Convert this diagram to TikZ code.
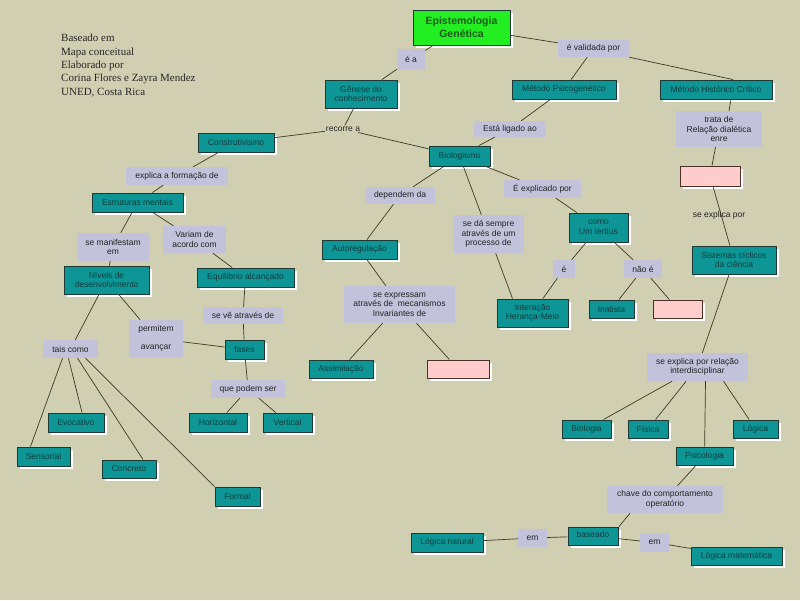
\documentclass[tikz,border=0pt]{standalone}
\usepackage{fontspec}
\setmainfont{Liberation Sans}
\newfontfamily\serifa{Liberation Serif}
\usetikzlibrary{shadows}
\definecolor{bg}{HTML}{D1CFB2}
\definecolor{teal0}{HTML}{0E9696}
\definecolor{tborder}{HTML}{1F3A36}
\definecolor{ttext}{HTML}{0F3B3B}
\definecolor{lav}{HTML}{C2C3DA}
\definecolor{ltext}{HTML}{222222}
\definecolor{pink0}{HTML}{FFCCCC}
\definecolor{pborder}{HTML}{4A3028}
\definecolor{green0}{HTML}{22EE22}
\definecolor{gtext}{HTML}{1E5A1E}
\definecolor{lk}{HTML}{3A3A24}
\tikzset{
  wh/.style 2 args={minimum width=#1pt, minimum height=#2pt},
  shad/.style={drop shadow={shadow xshift=2.5pt, shadow yshift=-2.5pt, fill=white, opacity=1}},
  tbox/.style={draw=tborder, fill=teal0, line width=0.9pt, text=ttext, inner sep=0pt, align=center, shad,
    font=\fontsize{8.5}{9.5}\selectfont},
  lbox/.style={fill=lav, text=ltext, inner sep=0pt, align=center, font=\fontsize{8.5}{9.5}\selectfont},
  ptext/.style={text=ltext, inner sep=1pt, align=center, font=\fontsize{8.5}{9.5}\selectfont},
  pbox/.style={draw=pborder, fill=pink0, line width=0.9pt, inner sep=0pt, shad},
  gbox/.style={draw=tborder, fill=green0, line width=0.9pt, text=gtext, inner sep=0pt, align=center, shad,
    font=\bfseries\fontsize{10.5}{13}\selectfont},
  link/.style={draw=lk, line width=0.7pt}
}
\begin{document}
\begin{tikzpicture}[x=1pt,y=-1pt]
\fill[bg] (0,0) rectangle (800,600);
\useasboundingbox (0,0) rectangle (800,600);

\node[anchor=north west, inner sep=0pt, align=left, text=black!85,
  font=\serifa\fontsize{11}{13.3}\selectfont] (cred) at (61,34)
  {Baseado em\\Mapa conceitual\\Elaborado por\\Corina Flores e Zayra Mendez\\UNED, Costa Rica};

% nodes
\node[gbox, wh={97}{35}] (episte) at (461.5,27.5) {Epistemologia\\Genética};
\node[lbox, wh={28}{21}] (ea) at (411,59.5) {é a};
\node[lbox, wh={71}{17}] (valid) at (593.5,48.5) {é validada por};
\node[tbox, wh={72}{28}] (genese) at (361,94) {Gênese do\\conhecimento};
\node[tbox, wh={104}{19}] (psico) at (564,89.5) {Método Psicogenético};
\node[tbox, wh={112}{19}] (hist) at (716,89.5) {Método Histórico Crítico};
\node[ptext] (recorre) at (343,129) {recorre a};
\node[tbox, wh={76}{19}] (constr) at (236,142.5) {Construtivismo};
\node[lbox, wh={72}{16}] (ligado) at (510,129) {Está ligado ao};
\node[lbox, wh={86}{36}] (trata) at (719,129) {trata de\\Relação dialética\\enre};
\node[tbox, wh={61}{20}] (bio) at (459.5,156) {Biologismo};
\node[pbox, wh={60}{20}] (pinka) at (710,176) {};
\node[lbox, wh={102}{18}] (explica) at (177,176) {explica a formação de};
\node[lbox, wh={70}{17}] (depend) at (400,195.5) {dependem da};
\node[lbox, wh={77}{18}] (explicado) at (542.5,189) {É explicado por};
\node[tbox, wh={91}{19}] (estrut) at (137.5,202.5) {Estruturas mentais};
\node[lbox, wh={72}{28}] (manif) at (113,247) {se manifestam\\em};
\node[lbox, wh={63}{27}] (variam) at (194.5,239.5) {Variam de\\acordo com};
\node[tbox, wh={75}{19}] (autoreg) at (359.5,249.5) {Autoregulação};
\node[lbox, wh={71}{38}] (seda) at (488.5,234) {se dá sempre\\através de um\\processo de};
\node[tbox, wh={59}{29}] (tertius) at (598.5,227.5) {como\\Um tertius};
\node[tbox, wh={84}{28}] (sistemas) at (734,260) {Sistemas cíclicos\\da ciência};
\node[tbox, wh={85}{28}] (niveis) at (106.5,280) {Níveis de\\desenvolvimento};
\node[tbox, wh={97}{19}] (equil) at (245.5,277.5) {Equilíbrio alcançado};
\node[lbox, wh={22}{18}] (e) at (564,269) {é};
\node[lbox, wh={38}{18}] (naoe) at (643,269) {não é};
\node[lbox, wh={111}{37}] (express) at (399.5,304.5) {se expressam\\através de\ \ mecanismos\\Invariantes de};
\node[tbox, wh={71}{28}] (inter) at (532.5,313) {Interação\\Herança-Meio};
\node[tbox, wh={45}{18}] (inat) at (611.5,309) {Inatista};
\node[pbox, wh={49}{18}] (pinkb) at (677.5,309) {};
\node[lbox, wh={80}{17}] (seve) at (243,315.5) {se vê através de};
\node[lbox, wh={54}{37}] (permit) at (156,338.5) {permitem\\[8pt]avançar};
\node[tbox, wh={39}{19}] (fases) at (244.5,349.5) {fases};
\node[lbox, wh={55}{18}] (tais) at (70.5,349) {tais como};
\node[tbox, wh={64}{18}] (assim) at (341,369) {Assimilação};
\node[pbox, wh={62}{18}] (pinkc) at (458,369) {};
\node[lbox, wh={101}{28}] (relacao) at (697.5,367) {se explica por relação\\interdisciplinar};
\node[lbox, wh={74}{18}] (podem) at (248,389) {que podem ser};
\node[tbox, wh={56}{19}] (evoc) at (76,422.5) {Evocativo};
\node[tbox, wh={58}{19}] (horiz) at (218,422.5) {Horizontal};
\node[tbox, wh={49}{19}] (vert) at (287.5,422.5) {Vertical};
\node[tbox, wh={53}{19}] (sens) at (43.5,456.5) {Sensorial};
\node[tbox, wh={54}{18}] (concr) at (129,469) {Concreto};
\node[tbox, wh={45}{19}] (formal) at (237.5,496.5) {Formal};
\node[tbox, wh={49}{18}] (biologia) at (586.5,429) {Biologia};
\node[tbox, wh={40}{18}] (fisica) at (648,429) {Física};
\node[tbox, wh={45}{18}] (logica) at (755.5,429) {Lógica};
\node[tbox, wh={57}{18}] (psicol) at (704.5,456) {Psicologia};
\node[lbox, wh={116}{27}] (chave) at (665,499.5) {chave do comportamento\\operatório};
\node[tbox, wh={72}{19}] (lnat) at (447,542.5) {Lógica natural};
\node[lbox, wh={29}{18}] (ema) at (532.5,538) {em};
\node[tbox, wh={50}{18}] (baseado) at (593,536) {\raisebox{3pt}{baseado}};
\node[lbox, wh={29}{19}] (emb) at (654.5,542.5) {em};
\node[tbox, wh={91}{18}] (lmat) at (736.5,556) {Lógica matemática};

% links
\draw[link] (episte) -- (ea);
\draw[link] (ea) -- (genese);
\draw[link] (episte) -- (valid);
\draw[link] (valid) -- (psico);
\draw[link] (valid.south east) -- ([xshift=17pt]hist.north);
\draw[link] (genese) -- (recorre);
\draw[link] (recorre) -- (constr);
\draw[link] (recorre) -- (bio);
\draw[link] (psico) -- (ligado);
\draw[link] (ligado) -- (bio);
\draw[link] ([xshift=15pt]hist.south) -- ([xshift=10pt]trata.north);
\draw[link] (trata) -- (pinka);
\draw[link] (pinka) -- (sistemas);
\node[ptext] (seexp) at (719,215) {se explica por};
\draw[link] (constr) -- (explica);
\draw[link] (explica) -- (estrut);
\draw[link] (bio) -- (depend);
\draw[link] (depend) -- (autoreg);
\draw[link] (bio) -- (seda);
\draw[link] (bio) -- (explicado);
\draw[link] (explicado) -- (tertius);
\draw[link] (estrut) -- (manif);
\draw[link] (manif) -- (niveis);
\draw[link] (estrut) -- (variam);
\draw[link] (variam) -- (equil);
\draw[link] (autoreg) -- (express);
\draw[link] (seda) -- ([xshift=-20pt]inter.north);
\draw[link] (tertius) -- (e);
\draw[link] (tertius) -- (naoe);
\draw[link] (e) -- (inter);
\draw[link] (naoe) -- (inat);
\draw[link] (naoe) -- (pinkb);
\draw[link] (sistemas) -- (relacao);
\draw[link] (niveis) -- (tais);
\draw[link] (niveis) -- (permit);
\draw[link] (permit) -- (fases);
\draw[link] (equil) -- (seve);
\draw[link] (seve) -- (fases);
\draw[link] (express) -- (assim);
\draw[link] (express) -- (pinkc);
\draw[link] (fases) -- (podem);
\draw[link] (podem) -- (horiz);
\draw[link] (podem) -- (vert);
\draw[link] ([xshift=-8pt]tais.south) -- ([xshift=-13pt]sens.north);
\draw[link] ([xshift=-2pt]tais.south) -- ([xshift=6pt]evoc.north);
\draw[link] ([xshift=7pt]tais.south) -- ([xshift=14pt]concr.north);
\draw[link] ([xshift=15pt]tais.south) -- (formal.north west);
\draw[link] (relacao) -- (biologia);
\draw[link] (relacao) -- (fisica);
\draw[link] ([xshift=8pt]relacao.south) -- (psicol);
\draw[link] ([xshift=26pt]relacao.south) -- (logica);
\draw[link] (psicol) -- (chave);
\draw[link] ([xshift=-35pt]chave.south) -- ([xshift=26pt]baseado.north);
\draw[link] (baseado) -- (ema);
\draw[link] (ema) -- (lnat);
\draw[link] (baseado) -- (emb);
\draw[link] (emb) -- (lmat);
\end{tikzpicture}
\end{document}
